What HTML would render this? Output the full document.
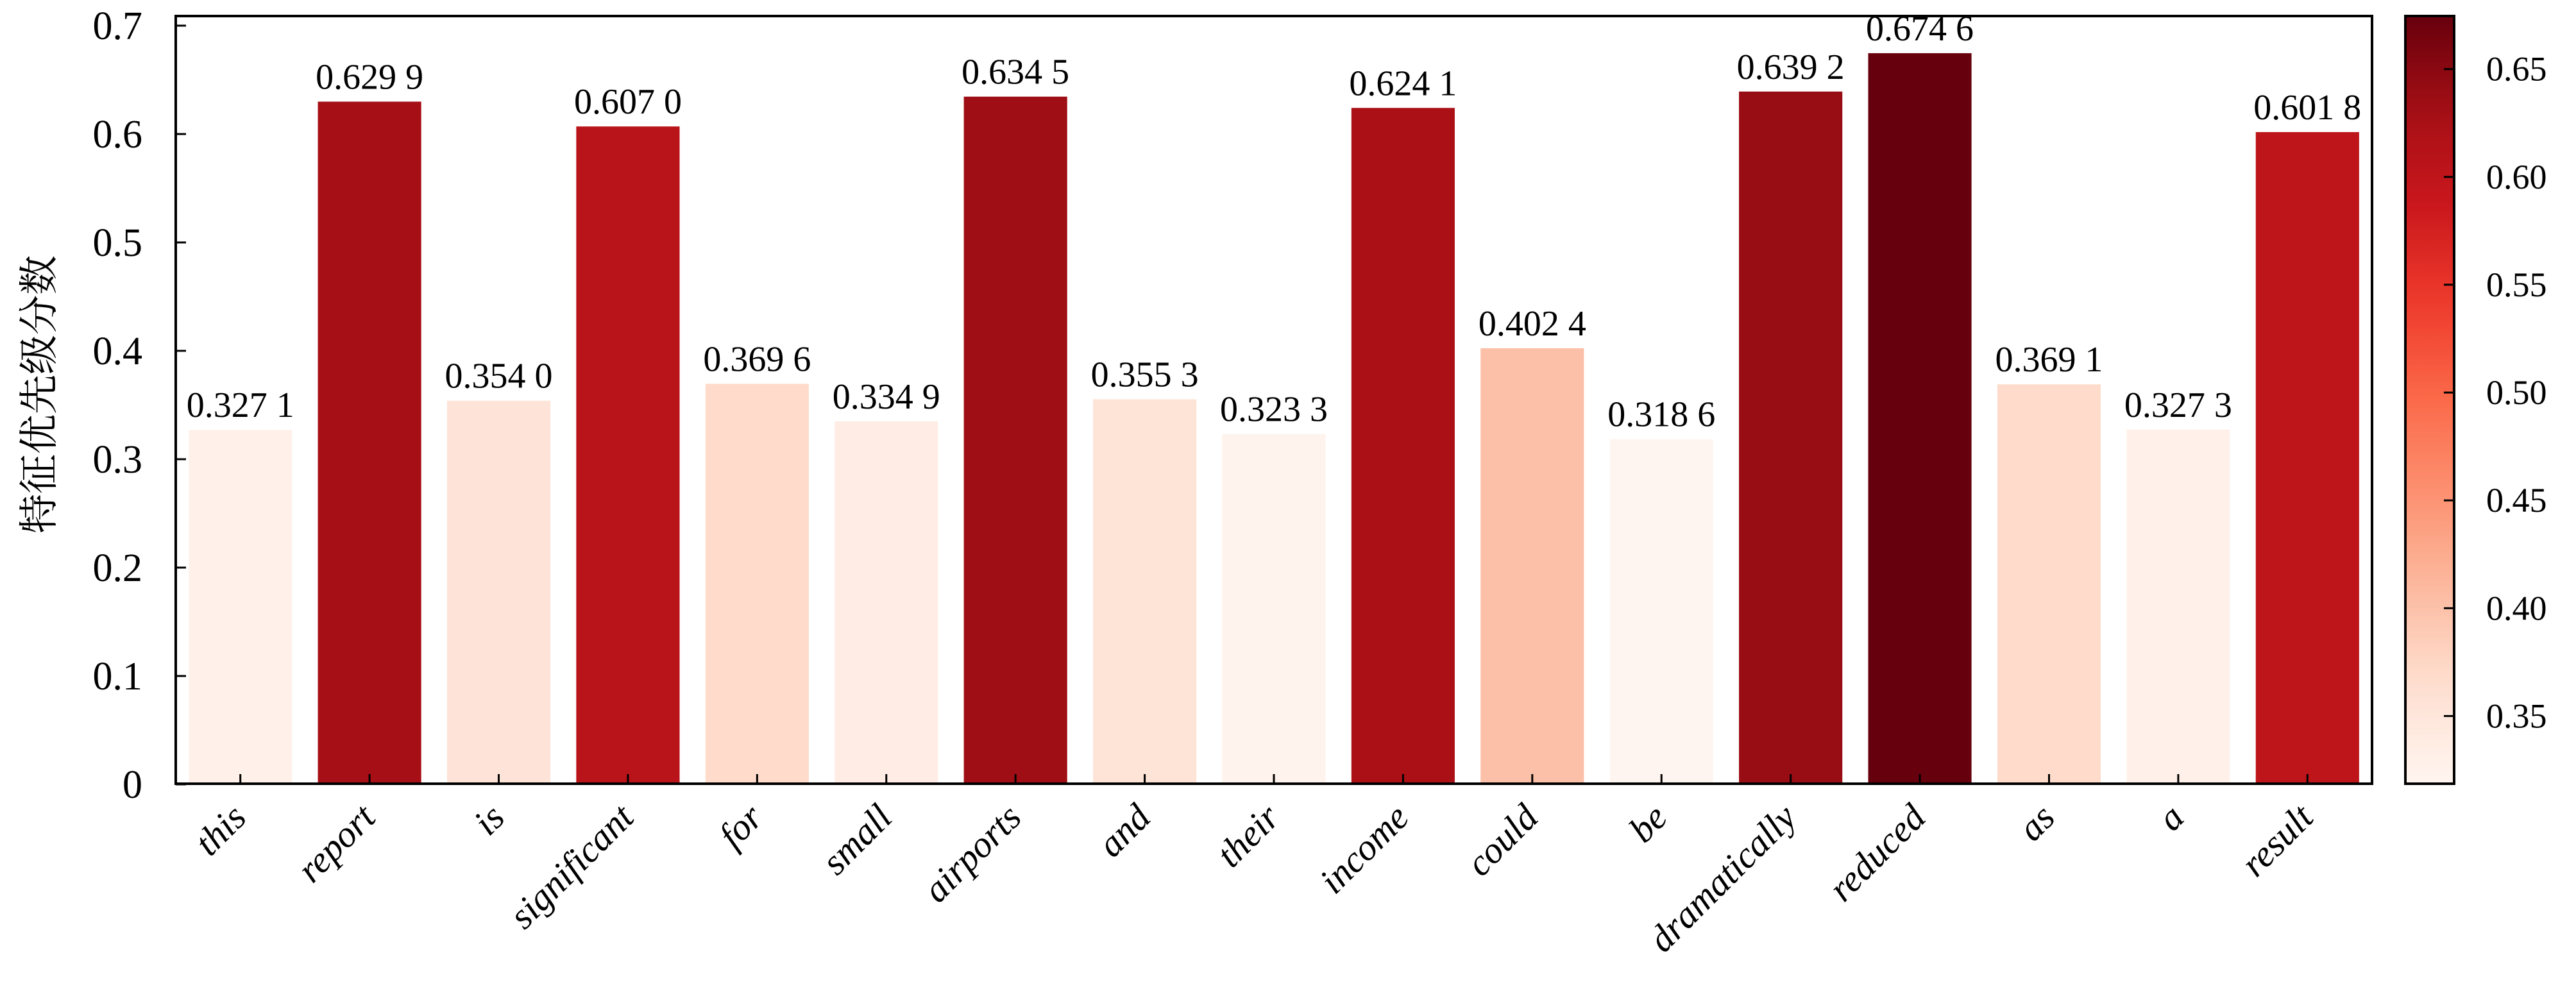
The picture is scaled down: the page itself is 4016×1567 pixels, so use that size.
<!DOCTYPE html>
<html><head><meta charset="utf-8"><style>
html,body{margin:0;padding:0;background:#fff;}
svg{display:block;}
text{font-family:"Liberation Serif","Noto Serif CJK SC",serif;fill:#000;}
</style></head><body>
<svg id="chart" width="4016" height="1567" viewBox="0 0 4016 1567" xmlns="http://www.w3.org/2000/svg">
<g id="bars"></g>
<g id="vlabels"></g>
<g id="xaxis"></g>
<g id="yaxis"></g>
<rect x="274" y="25" width="3424" height="1197" fill="none" stroke="#000" stroke-width="4"/>
<text transform="translate(82,615) rotate(-90)" text-anchor="middle" font-size="62">特征优先级分数</text>
<defs><linearGradient id="cbgrad" x1="0" y1="1" x2="0" y2="0"></linearGradient></defs>
<g id="cbar">
<rect x="3750" y="25" width="76" height="1197" fill="url(#cbgrad)" stroke="#000" stroke-width="4"/>
</g>
</svg>
<script>
const categories=["this","report","is","significant","for","small","airports","and","their","income","could","be","dramatically","reduced","as","a","result"];
const values=[0.3271,0.6299,0.3540,0.6070,0.3696,0.3349,0.6345,0.3553,0.3233,0.6241,0.4024,0.3186,0.6392,0.6746,0.3691,0.3273,0.6018];
const yTicks=[0,0.1,0.2,0.3,0.4,0.5,0.6,0.7];
const yTickLabels=["0","0.1","0.2","0.3","0.4","0.5","0.6","0.7"];
const cbTicks=[0.35,0.40,0.45,0.50,0.55,0.60,0.65];
const cbTickLabels=["0.35","0.40","0.45","0.50","0.55","0.60","0.65"];

const NS="http://www.w3.org/2000/svg";
const X0=274,X1=3698,Y0=1223,PXPER=1690;
const vmin=Math.min(...values),vmax=Math.max(...values);
const slot=(X1-X0)/categories.length;
function xC(i){return X0+slot*(i+0.5);}
function yS(v){return Y0-v*PXPER;}
const reds=["#fff5f0","#fee0d2","#fcbba1","#fc9272","#fb6a4a","#ef3b2c","#cb181d","#a50f15","#67000d"];
function hx(c){return [1,3,5].map(k=>parseInt(c.substr(k,2),16));}
function cmap(t){t=Math.max(0,Math.min(1,t));const p=t*(reds.length-1);const i=Math.min(Math.floor(p),reds.length-2);const f=p-i;const a=hx(reds[i]),b=hx(reds[i+1]);return "rgb("+a.map((x,k)=>Math.round(x+(b[k]-x)*f)).join(",")+")";}
function el(tag,attrs,parent){const e=document.createElementNS(NS,tag);for(const k in attrs)e.setAttribute(k,attrs[k]);parent.appendChild(e);return e;}
function fmt(v){const s=v.toFixed(4);return s.slice(0,5)+" "+s.slice(5);}

const gB=document.getElementById("bars"),gL=document.getElementById("vlabels"),gX=document.getElementById("xaxis"),gY=document.getElementById("yaxis");
const bw=slot*0.8;
values.forEach((v,i)=>{
  const r=el("rect",{x:xC(i)-bw/2,y:yS(v),width:bw,height:Y0-yS(v),fill:cmap((v-vmin)/(vmax-vmin))},gB);
  
  
  const t=el("text",{x:xC(i),y:yS(v)-20,"text-anchor":"middle","font-size":"56"},gL);
  t.textContent=fmt(v);
  
  
  const tk=el("line",{x1:xC(i),x2:xC(i),y1:Y0,y2:Y0-16,stroke:"#000","stroke-width":"3"},gX);
  
  
  const xl=el("text",{transform:"translate("+(xC(i)+12)+",1278) rotate(-45)","text-anchor":"end","font-size":"58","font-style":"italic"},gX);
  xl.textContent=categories[i];
  
  
});
yTicks.forEach((v,i)=>{
  const tk=el("line",{x1:X0,x2:X0+16,y1:yS(v),y2:yS(v),stroke:"#000","stroke-width":"3"},gY);
  
  
  const t=el("text",{x:222,y:yS(v)+21,"text-anchor":"end","font-size":"62"},gY);
  t.textContent=yTickLabels[i];
  
  
});
const grad=document.getElementById("cbgrad");
for(let k=0;k<=20;k++){el("stop",{offset:(k/20),"stop-color":cmap(k/20)},grad);}
const gC=document.getElementById("cbar");
const cbY=v=>1222-(v-vmin)/(vmax-vmin)*1197;
cbTicks.forEach((v,i)=>{
  const tk=el("line",{x1:3810,x2:3826,y1:cbY(v),y2:cbY(v),stroke:"#000","stroke-width":"3"},gC);
  
  
  const t=el("text",{x:3876,y:cbY(v)+18,"font-size":"54"},gC);
  t.textContent=cbTickLabels[i];
  
  
});
</script>
</body></html>
